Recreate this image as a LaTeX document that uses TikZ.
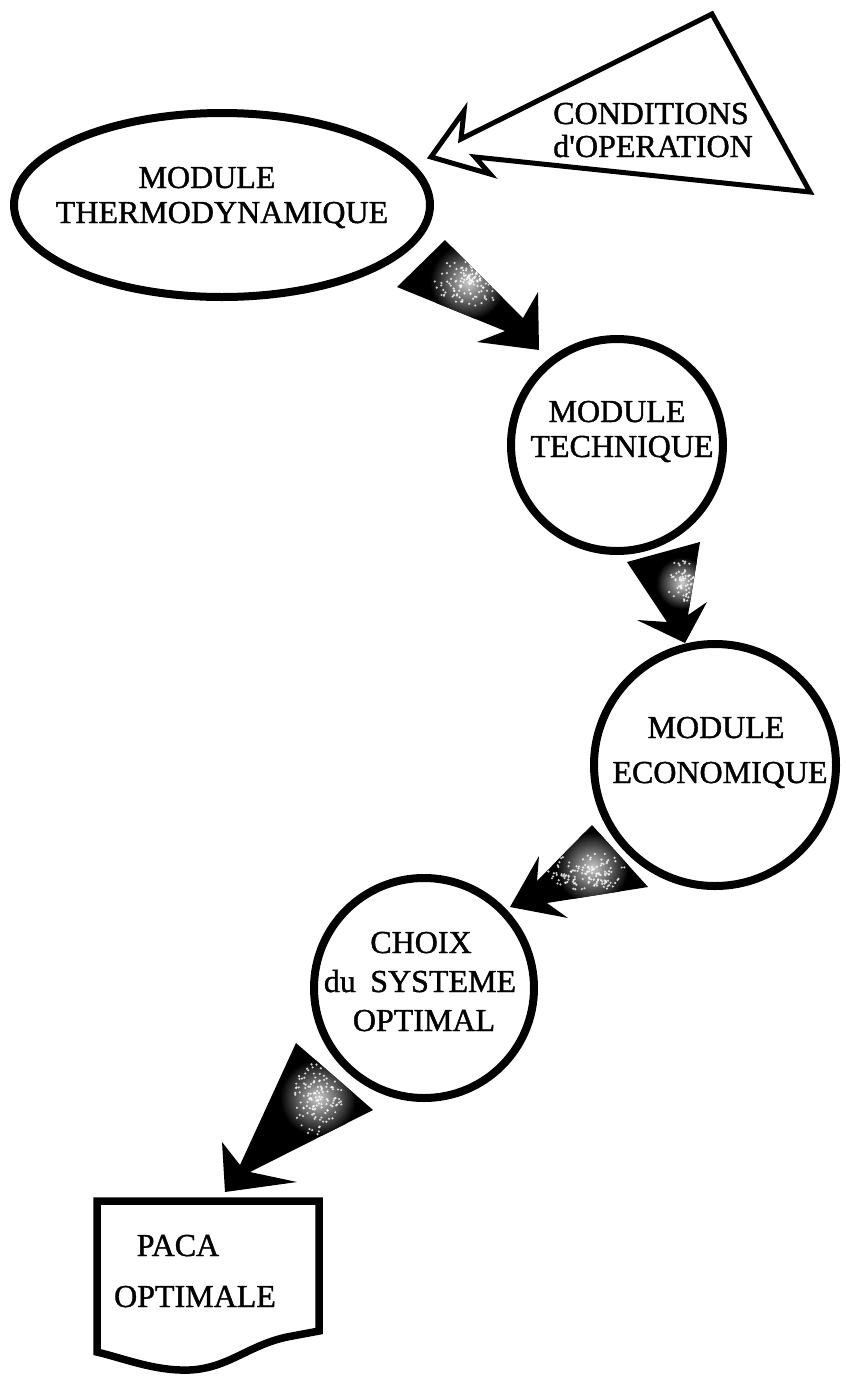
\documentclass[tikz,border=0pt]{standalone}
\usepackage{fontspec}
\setmainfont{Liberation Serif}[FakeBold=1.2]
\newfontfamily\heavyserif{Liberation Serif}[FakeBold=1.2]
\usetikzlibrary{shapes.geometric}
\newcommand\lbfont{\heavyserif\fontsize{32}{38}\selectfont}
\newcommand\specks[5]{%
  \foreach \i in {1,...,#5}{%
    \pgfmathsetmacro\rr{rnd^0.75}%
    \pgfmathsetmacro\aa{360*rnd}%
    \fill[white,opacity=0.8] ({#1+#3*\rr*cos(\aa)},{#2+#4*\rr*sin(\aa)}) circle (1.2);}}
\begin{document}
\begin{tikzpicture}[x=1pt,y=-1pt,
  modcircle/.style={circle,draw=black,line width=8pt,inner sep=0pt},
  lbl/.style={font=\lbfont,anchor=base,inner sep=0pt},
  flowarrow/.style={fill=black},
  speck/.style={inner color=gray!40,outer color=black}]
\pgfmathsetseed{7}
\useasboundingbox (0,0) rectangle (846,1377);
\fill[white] (0,0) rectangle (846,1377);

% ---------- shapes ----------
\node[ellipse,draw=black,line width=8pt,minimum width=416pt,minimum height=184pt,inner sep=0pt] (thermo) at (222,205) {};
\node[modcircle,minimum size=212pt] (tech) at (617,445) {};
\node[modcircle,minimum size=242pt] (eco) at (715,765) {};
\node[modcircle,minimum size=220pt] (choix) at (424,988) {};

% conditions callout
\coordinate (cT) at (712,14);
\coordinate (cN1) at (461,139);
\coordinate (cB1) at (464,111);
\coordinate (cTip) at (431,157);
\coordinate (cB2) at (490,174);
\coordinate (cN2) at (475,157);
\coordinate (cBR) at (810,192);
\draw[line width=5pt,line join=miter,miter limit=4] (cT) -- (cN1) -- (cB1) -- (cTip) -- (cB2) -- (cN2) -- (cBR) -- cycle;

% document shape
\coordinate (dTL) at (97,1201);
\coordinate (dTR) at (319,1201);
\coordinate (dBR) at (319,1331);
\coordinate (dBL) at (97,1352);
\draw[line width=7.5pt,line join=miter] (dTL) -- (dTR) -- (dBR) -- (287,1337)
  .. controls (245,1346) and (225,1372) .. (180,1370)
  .. controls (150,1369) and (122,1358) .. (dBL) -- cycle;

% ---------- texts ----------
\node[lbl] (t1a) at (207,188) {MODULE};
\node[lbl] (t1b) at (222,223) {THERMODYNAMIQUE};
\node[lbl] (c1) at (651,124) {CONDITIONS};
\node[lbl] (c2) at (653,157) {d\textquotesingle OPERATION};
\node[lbl] (t2a) at (617,422) {MODULE};
\node[lbl] (t2b) at (622,457) {TECHNIQUE};
\node[lbl] (t3a) at (716,738) {MODULE};
\node[lbl] (t3b) at (720,783) {ECONOMIQUE};
\node[lbl] (t4a) at (421,953) {CHOIX};
\node[lbl] (t4b) at (420,992) {du\hspace{0.45em}SYSTEME};
\node[lbl] (t4c) at (424,1031) {OPTIMAL};
\node[lbl] (t5a) at (178,1256) {PACA};
\node[lbl] (t5b) at (195,1307) {OPTIMALE};

% ---------- shaded arrows ----------
% arrow 1: thermo -> tech
\def\arrowA{(397,287) -- (505,331) -- (477,342) -- (539,350) -- (538,292) -- (523,318) -- (445,240) -- cycle}
\fill[flowarrow] \arrowA;
\begin{scope}\clip \arrowA; \shade[speck] (468,282) circle (38); \specks{470}{280}{38}{26}{150}\end{scope}

% arrow 2: tech -> eco
\def\arrowB{(627,562) -- (667,622) -- (637,620) -- (685,643) -- (707,602) -- (688,615) -- (700,542) -- cycle}
\fill[flowarrow] \arrowB;
\begin{scope}\clip \arrowB; \shade[speck] (682,583) circle (26); \specks{682}{583}{15}{24}{60}\end{scope}

% arrow 3: eco -> choix
\def\arrowC{(592,825) -- (537,881) -- (539,856) -- (510,907) -- (568,918) -- (547,903) -- (648,887) -- cycle}
\fill[flowarrow] \arrowC;
\begin{scope}\clip \arrowC; \shade[speck] (592,868) circle (36); \specks{588}{872}{40}{20}{130}\end{scope}

% arrow 4: choix -> paca
\def\arrowD{(296,1043) -- (240,1165) -- (222,1142) -- (225,1192) -- (297,1182) -- (250,1172) -- (373,1110) -- cycle}
\fill[flowarrow] \arrowD;
\begin{scope}\clip \arrowD; \shade[speck] (318,1098) circle (38); \specks{318}{1100}{24}{40}{130}\end{scope}
\end{tikzpicture}
\end{document}
